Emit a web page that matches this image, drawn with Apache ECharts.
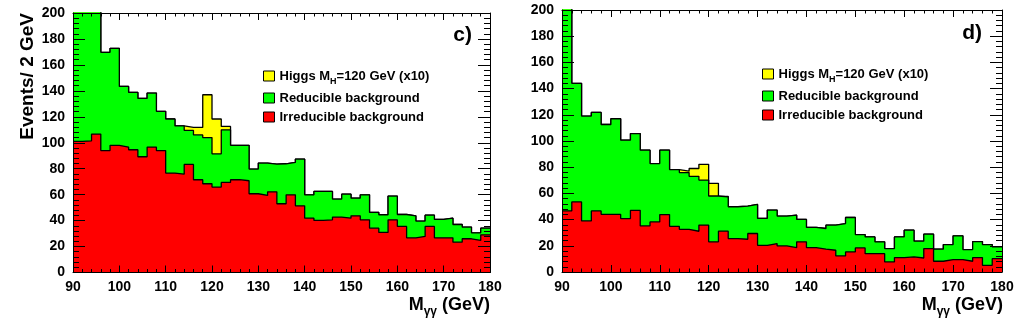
<!DOCTYPE html>
<html><head><meta charset="utf-8">
<script src="https://cdn.jsdelivr.net/npm/echarts@6/dist/echarts.min.js"></script>
<style>html,body{margin:0;padding:0;background:#fff}#chart{width:1024px;height:325px}</style>
</head><body><div id="chart"></div>
<script>
// Lower edges of the 2 GeV mass bins (GeV)
const massBinLow = [90,92,94,96,98,100,102,104,106,108,110,112,114,116,118,120,122,124,126,128,130,132,134,136,138,140,142,144,146,148,150,152,154,156,158,160,162,164,166,168,170,172,174,176,178];
const massMax = 180;
const xTickLabels = ['90','100','110','120','130','140','150','160','170','180'];
const yTickLabels = ['0','20','40','60','80','100','120','140','160','180','200'];

// Panel c)
const cIrreducible = [101,101.5,106.7,94,98,96.7,94.6,89.2,96.7,94,76.6,75.8,83.3,71.5,68.4,65.8,69.4,71.5,70.7,60.7,59.4,62.2,53,59.9,51.4,41.9,40.1,40.6,42.7,41.9,43.7,40.6,34.2,30.9,40.6,35.5,26.7,27.8,35.5,26.7,26.7,23.4,26,24.7,29];
const cReducible = [125,115,105,75.7,74.8,46.7,44.2,45,41.6,30.2,41.7,37.2,26.2,34.5,35.6,25.7,40.6,26.5,27.3,19,24.9,21.3,30.8,24.9,36,18,22.4,21.9,13.9,18.5,13.6,19.3,12.1,13.6,18.3,9.2,17,11.8,8.7,14.2,15.2,13.6,9,5.9,5.2];
const cHiggs = [0,0,0,0,0,0,0,0,0,0,0,0,2.3,5.8,33,26.8,2.6,0,0,0,0,0,0,0,0,0,0,0,0,0,0,0,0,0,0,0,0,0,0,0,0,0,0,0,0];

// Panel d)
const dIrreducible = [46.6,53.5,39,46.6,44,44,40.8,47.1,35.2,38.2,43.8,34.9,32.6,31.1,35.8,23,31.2,25.5,25,29.4,20.4,21.7,19.9,18.6,23,18.6,17.4,16.6,12.3,15.3,18.4,14,14,7.7,11,11.5,10.7,17.9,8.2,9.5,9.5,8.2,11,5.1,10.2];
const dReducible = [158,90.5,80,75.2,68.6,73,59.8,58.6,57.8,44.6,49.2,43.3,43.3,41.9,34.4,35,26.1,24.3,25.3,22.2,20.5,25.6,22.8,24.8,17.1,15.4,15.8,19.2,24.7,26.3,10.2,12.8,9,10.2,15.8,20.4,12.8,11,9.2,11.4,18.1,8.9,12.2,15.8,9];
const dHiggs = [0,0,0,0,0,0,0,0,0,0,0,0,1.1,6,12,9.7,0.5,0,0,0,0,0,0,0,0,0,0,0,0,0,0,0,0,0,0,0,0,0,0,0,0,0,0,0,0];

const seriesNames = ['Higgs', 'Reducible', 'Irreducible'];
const legendLabels = {
  'Higgs': '{b|Higgs M}{s|H}{b|=120 GeV (x10)}',
  'Irreducible': '{b|Irreducible background}',
  'Reducible': '{b|Reducible background}'
};

const FONT = '"Liberation Sans", Arial, Helvetica, sans-serif';
const BLACK = '#000';

function stack(...arrs) {
  return arrs[0].map((_, i) => arrs.reduce((s, a) => s + a[i], 0));
}
function stepData(vals) {
  const d = massBinLow.map((x, i) => [x, vals[i]]);
  d.push([massMax, vals[vals.length - 1]]);
  return d;
}

function histSeries(name, vals, color, xi, yi, z) {
  return {
    name: name, type: 'line', step: 'end', xAxisIndex: xi, yAxisIndex: yi,
    data: stepData(vals), symbol: 'none', z: z, clip: true,
    itemStyle: { color: color },
    lineStyle: { color: BLACK, width: 1.3 },
    areaStyle: { color: color, opacity: 1 },
    emphasis: { disabled: true }, animation: false
  };
}

function xAxes(gridIndex) {
  const base = {
    gridIndex, type: 'value', min: 90, max: 180, interval: 10, z: 10,
    splitLine: { show: false },
    axisLine: { show: true, onZero: false, lineStyle: { color: BLACK, width: 1 } },
    axisTick: { show: true, inside: true, length: 7, lineStyle: { color: BLACK } },
    minorTick: { show: true, splitNumber: 5, length: 3.5, lineStyle: { color: BLACK } }
  };
  return [
    Object.assign({}, base, { position: 'bottom',
      axisLabel: { show: true, margin: 8, color: BLACK, fontFamily: FONT, fontWeight: 'bold', fontSize: 14,
        formatter: v => xTickLabels[Math.round((v - 90) / 10)] } }),
    Object.assign({}, base, { position: 'top', axisLabel: { show: false } })
  ];
}
function yAxes(gridIndex) {
  const base = {
    gridIndex, type: 'value', min: 0, max: 200, interval: 20, z: 10,
    splitLine: { show: false },
    axisLine: { show: true, onZero: false, lineStyle: { color: BLACK, width: 1 } },
    axisTick: { show: true, inside: true, length: 12, lineStyle: { color: BLACK } },
    minorTick: { show: true, splitNumber: 5, length: 6, lineStyle: { color: BLACK } }
  };
  return [
    Object.assign({}, base, { position: 'left',
      axisLabel: { show: true, margin: 8, color: BLACK, fontFamily: FONT, fontWeight: 'bold', fontSize: 14,
        formatter: v => yTickLabels[Math.round(v / 20)] } }),
    Object.assign({}, base, { position: 'right', axisLabel: { show: false } })
  ];
}

function legendFor(left, top) {
  return {
    data: seriesNames, left: left, top: top, orient: 'vertical', padding: 0,
    itemWidth: 11, itemHeight: 10, itemGap: 6, icon: 'rect', selectedMode: false,
    itemStyle: { borderColor: BLACK, borderWidth: 1 },
    formatter: n => legendLabels[n],
    textStyle: {
      color: BLACK,
      rich: {
        b: { fontFamily: FONT, fontWeight: 'bold', fontSize: 13, lineHeight: 14, color: BLACK, verticalAlign: 'bottom' },
        s: { fontFamily: FONT, fontWeight: 'bold', fontSize: 9, lineHeight: 9, color: BLACK, verticalAlign: 'bottom', padding: [0, 0, -3, 0] }
      }
    }
  };
}

const richTitle = {
  m: { fontFamily: FONT, fontWeight: 'bold', fontSize: 18, lineHeight: 20, fill: BLACK, verticalAlign: 'bottom' },
  s: { fontFamily: FONT, fontWeight: 'bold', fontSize: 12, lineHeight: 10, fill: BLACK, verticalAlign: 'bottom', padding: [0, 0, -4, 0] }
};

const option = {
  backgroundColor: '#fff',
  animation: false,
  grid: [
    { left: 73, top: 13, width: 417, height: 259.5, containLabel: false },
    { left: 562, top: 10, width: 440, height: 262, containLabel: false }
  ],
  xAxis: [...xAxes(0), ...xAxes(1)],
  yAxis: [...yAxes(0), ...yAxes(1)],
  legend: [legendFor(263, 70), legendFor(762, 68)],
  series: [
    histSeries('Higgs', stack(cIrreducible, cReducible, cHiggs), '#ffff00', 0, 0, 2),
    histSeries('Reducible', stack(cIrreducible, cReducible), '#00ff00', 0, 0, 3),
    histSeries('Irreducible', cIrreducible, '#ff0000', 0, 0, 4),
    histSeries('Higgs', stack(dIrreducible, dReducible, dHiggs), '#ffff00', 2, 2, 2),
    histSeries('Reducible', stack(dIrreducible, dReducible), '#00ff00', 2, 2, 3),
    histSeries('Irreducible', dIrreducible, '#ff0000', 2, 2, 4)
  ],
  graphic: [
    { type: 'text', x: 28, y: 13, rotation: Math.PI / 2, z: 20,
      style: { text: 'Events/ 2 GeV', font: 'bold 19px ' + FONT, fill: BLACK, align: 'right', verticalAlign: 'middle' } },
    { type: 'text', x: 472, y: 35, z: 20,
      style: { text: 'c)', font: 'bold 21px ' + FONT, fill: BLACK, align: 'right', verticalAlign: 'middle' } },
    { type: 'text', x: 982, y: 33, z: 20,
      style: { text: 'd)', font: 'bold 21px ' + FONT, fill: BLACK, align: 'right', verticalAlign: 'middle' } },
    { type: 'text', x: 490, y: 294, z: 20,
      style: { text: '{m|M}{s|γγ}{m| (GeV)}', rich: richTitle, align: 'right', verticalAlign: 'top', fill: BLACK } },
    { type: 'text', x: 1003, y: 294, z: 20,
      style: { text: '{m|M}{s|γγ}{m| (GeV)}', rich: richTitle, align: 'right', verticalAlign: 'top', fill: BLACK } }
  ]
};

const chart = echarts.init(document.getElementById('chart'), null, { renderer: 'canvas' });
chart.setOption(option);
</script>
</body></html>
